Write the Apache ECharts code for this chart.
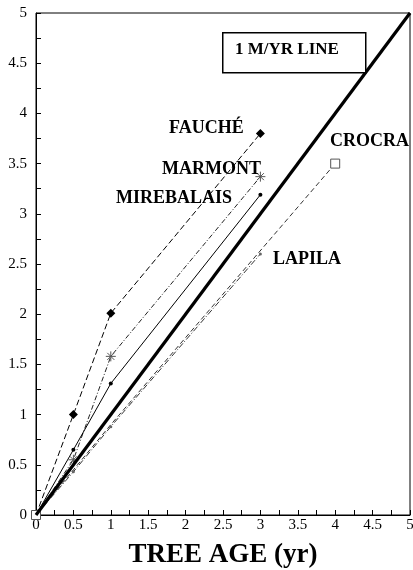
<!DOCTYPE html>
<html><head><meta charset="utf-8">
<script src="https://cdn.jsdelivr.net/npm/echarts@6/dist/echarts.min.js"></script>
<style>html,body{margin:0;padding:0;background:#fff}#c{width:413px;height:570px}</style>
</head><body><div id="c"></div>
<script>
const xTicks = [0,0.5,1,1.5,2,2.5,3,3.5,4,4.5,5];
const fauche = [[0,0],[0.5,1.0],[1,2.01],[3,3.8]];
const marmont = [[0,0],[0.5,0.55],[1,1.58],[3,3.37]];
const mirebalais = [[0,0],[0.5,0.65],[1,1.31],[3,3.19]];
const lapila = [[0,0],[0.5,0.43],[1,0.88],[3,2.6]];
const crocra = [[0,0],[0.5,0.45],[1,0.9],[4,3.5]];
const oneLine = [[0,0],[5,5]];
const serif = '"Liberation Serif","DejaVu Serif",serif';

const crocraData = crocra.map((p,i)=> (i===0||i===crocra.length-1) ? {value:p} : {value:p,symbol:'none'});

const chart = echarts.init(document.getElementById('c'));
chart.setOption({
  animation:false,
  backgroundColor:'#fff',
  grid:{left:36,right:3,top:13,bottom:55,outerBoundsMode:'none',containLabel:false,show:true,borderColor:'#000',borderWidth:1,backgroundColor:'transparent'},
  xAxis:{type:'value',min:0,max:5,interval:0.5,
    axisLine:{lineStyle:{color:'#000',width:1}},
    axisTick:{inside:true,length:5,lineStyle:{color:'#000'}},
    minorTick:{show:true,splitNumber:2,length:5,lineStyle:{color:'#000'}},
    splitLine:{show:false},
    axisLabel:{color:'#000',fontFamily:serif,fontSize:15,margin:3,formatter:v=>String(v)},
    name:'TREE AGE (yr)',nameLocation:'middle',nameGap:27,
    nameTextStyle:{color:'#000',fontFamily:serif,fontSize:27,fontWeight:'bold'}},
  yAxis:{type:'value',min:0,max:5,interval:0.5,
    axisLine:{show:true,lineStyle:{color:'#000',width:1}},
    axisTick:{show:true,inside:true,length:5,lineStyle:{color:'#000'}},
    minorTick:{show:true,splitNumber:2,length:5,lineStyle:{color:'#000'}},
    splitLine:{show:false},
    axisLabel:{color:'#000',fontFamily:serif,fontSize:15,margin:9,formatter:v=>String(v)}},
  series:[
    {name:'1 M/YR',type:'line',data:oneLine,symbol:'none',lineStyle:{color:'#000',width:3.2},z:5},
    {name:'FAUCHÉ',type:'line',data:fauche,symbol:'diamond',symbolSize:9,itemStyle:{color:'#000'},
      lineStyle:{color:'#000',width:1,type:[6,3]}},
    {name:'MARMONT',type:'line',data:marmont,symbol:'path://M0,-5L0,5M-5,0L5,0M-3.5,-3.5L3.5,3.5M-3.5,3.5L3.5,-3.5',symbolSize:10,
      itemStyle:{color:'#fff',borderColor:'#555',borderWidth:1},
      lineStyle:{color:'#222',width:1,type:[5,2,1,2]}},
    {name:'MIREBALAIS',type:'line',data:mirebalais,symbol:'circle',symbolSize:4,itemStyle:{color:'#000'},
      lineStyle:{color:'#000',width:1}},
    {name:'LAPILA',type:'line',data:lapila,symbol:'circle',symbolSize:3,itemStyle:{color:'#666'},
      lineStyle:{color:'#333',width:1,type:[6,2,1,2]}},
    {name:'CROCRA',type:'line',data:crocraData,symbol:'rect',symbolSize:9,showSymbol:true,
      itemStyle:{color:'#fff',borderColor:'#555',borderWidth:1},
      lineStyle:{color:'#333',width:1,type:[5,3]}}
  ],
  graphic:[
    {type:'rect',left:222,top:32,z:100,shape:{width:143,height:40},style:{fill:'#fff',stroke:'#000',lineWidth:1.5}},
    {type:'text',left:235,top:41,z:101,style:{text:'1 M/YR LINE',font:'bold 17px '+serif,fill:'#000'}},
    {type:'text',left:169,top:119,z:101,style:{text:'FAUCHÉ',font:'bold 18px '+serif,fill:'#000'}},
    {type:'text',left:162,top:160,z:101,style:{text:'MARMONT',font:'bold 18px '+serif,fill:'#000'}},
    {type:'text',left:116,top:189,z:101,style:{text:'MIREBALAIS',font:'bold 18px '+serif,fill:'#000'}},
    {type:'text',left:330,top:132,z:101,style:{text:'CROCRA',font:'bold 18px '+serif,fill:'#000'}},
    {type:'text',left:273,top:250,z:101,style:{text:'LAPILA',font:'bold 18px '+serif,fill:'#000'}}
  ]
});
</script></body></html>
